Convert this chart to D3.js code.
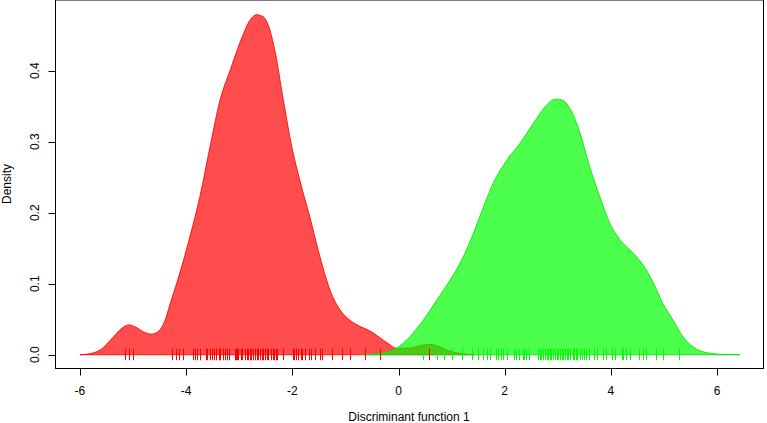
<!DOCTYPE html>
<html><head><meta charset="utf-8">
<script src="https://cdn.jsdelivr.net/npm/d3@7"></script>
<style>body{margin:0;background:#fff}svg{display:block}text{font-family:"Liberation Sans",Arial,sans-serif;font-size:12px;fill:#000}</style>
</head><body>
<svg id="c" width="767" height="423"></svg>
<script>
// Density curve of group 1 (red): [x, density]
const redDensity = [[-6.0,0],[-5.85,0.001],[-5.62,0.0066],[-5.37,0.025],[-5.2,0.038],[-5.07,0.042],[-4.95,0.039],[-4.80,0.032],[-4.65,0.029],[-4.52,0.033],[-4.40,0.048],[-4.30,0.072],[-4.12,0.115],[-3.93,0.166],[-3.74,0.223],[-3.55,0.293],[-3.36,0.359],[-3.17,0.401],[-2.99,0.439],[-2.80,0.471],[-2.67,0.479],[-2.55,0.476],[-2.48,0.469],[-2.33,0.429],[-2.17,0.359],[-2.01,0.293],[-1.86,0.246],[-1.67,0.194],[-1.48,0.138],[-1.29,0.091],[-1.10,0.063],[-0.92,0.049],[-0.73,0.040],[-0.55,0.034],[-0.35,0.024],[-0.20,0.016],[-0.04,0.009],[0.21,0.0095],[0.42,0.013],[0.59,0.0146],[0.75,0.012],[0.91,0.0066],[1.16,0.002],[1.43,0]];
// Density curve of group 2 (green): [x, density]
const greenDensity = [[-0.66,0],[-0.35,0.002],[-0.04,0.009],[0.21,0.025],[0.47,0.049],[0.72,0.077],[0.97,0.105],[1.22,0.138],[1.41,0.171],[1.60,0.208],[1.78,0.241],[2.04,0.274],[2.29,0.298],[2.54,0.326],[2.76,0.349],[2.91,0.359],[3.01,0.360],[3.12,0.357],[3.23,0.347],[3.42,0.312],[3.60,0.265],[3.79,0.223],[3.98,0.185],[4.17,0.162],[4.42,0.143],[4.61,0.126],[4.80,0.101],[4.98,0.072],[5.17,0.049],[5.36,0.025],[5.55,0.011],[5.80,0.003],[6.11,0.0005],[6.43,0]];
// Observations (rug) per group
const redObs = [-5.15,-5.07,-5.00,-4.27,-4.20,-4.13,-4.05,-3.88,-3.83,-3.79,-3.73,-3.63,-3.60,-3.56,-3.52,-3.48,-3.44,-3.39,-3.38,-3.36,-3.30,-3.27,-3.23,-3.19,-3.08,-3.06,-3.04,-3.02,-2.97,-2.94,-2.90,-2.86,-2.83,-2.80,-2.77,-2.74,-2.70,-2.67,-2.64,-2.61,-2.58,-2.55,-2.52,-2.48,-2.45,-2.41,-2.37,-2.34,-2.31,-2.28,-2.17,-1.99,-1.96,-1.93,-1.89,-1.84,-1.81,-1.76,-1.68,-1.64,-1.57,-1.48,-1.44,-1.26,-1.07,-0.92,-0.63,-0.35,0.58];
const greenObs = [0.47,0.72,0.86,1.01,1.19,1.39,1.50,1.60,1.66,1.72,1.83,1.88,1.93,1.97,2.05,2.18,2.22,2.27,2.34,2.37,2.41,2.46,2.62,2.66,2.69,2.72,2.76,2.79,2.82,2.85,2.88,2.91,2.94,2.98,3.01,3.04,3.07,3.10,3.13,3.17,3.20,3.23,3.28,3.31,3.34,3.37,3.42,3.46,3.50,3.54,3.59,3.68,3.73,3.85,3.90,4.03,4.08,4.20,4.23,4.28,4.36,4.53,4.61,4.67,4.85,4.98,5.29];
const xTicks = [-6,-4,-2,0,2,4,6];
const yTicks = [0,0.1,0.2,0.3,0.4];
const xTitle = "Discriminant function 1";
const yTitle = "Density";

const svg = d3.select("#c");
const L = 55, R = 763, T = 0, B = 368;
const x = d3.scaleLinear().domain([-6.47, 6.865]).range([L, R]);
const y = d3.scaleLinear().domain([-0.0187, 0.4983]).range([B, T + 1]);

const area = d3.area().x(d => x(d[0])).y0(y(0)).y1(d => y(d[1])).curve(d3.curveMonotoneX);
const line = d3.line().x(d => x(d[0])).y(d => y(d[1])).curve(d3.curveMonotoneX);

function drawDens(data, fill, stroke) {
  svg.append("path").attr("d", area(data)).attr("fill", fill).attr("stroke", "none");
  svg.append("path").attr("d", line(data)).attr("fill", "none").attr("stroke", stroke).attr("stroke-width", 1);
  svg.append("line").attr("x1", x(data[0][0])).attr("x2", x(data[data.length-1][0]))
    .attr("y1", y(0)).attr("y2", y(0)).attr("stroke", stroke).attr("stroke-width", 1);
}
drawDens(redDensity, "rgba(255,0,0,0.7)", "rgba(255,0,0,0.85)");
drawDens(greenDensity, "rgba(0,255,0,0.7)", "rgba(0,230,0,0.85)");

function rug(data, color) {
  svg.append("g").selectAll("line").data(data).join("line")
    .attr("x1", d => Math.round(x(d)) + 0.5).attr("x2", d => Math.round(x(d)) + 0.5)
    .attr("y1", y(0) - 6).attr("y2", y(0) + 5.5)
    .attr("stroke", color).attr("stroke-width", 1);
}
rug(redObs, "#ff0000");
rug(greenObs, "#00ff00");

// box
svg.append("rect").attr("x", L + 0.5).attr("y", T).attr("width", R - L).attr("height", B - T + 0.5)
  .attr("fill", "none").attr("stroke", "#000").attr("stroke-width", 1);

// x axis
const xa = svg.append("g").attr("transform", `translate(0,${B + 0.5})`);
xa.append("line").attr("x1", x(xTicks[0])).attr("x2", x(xTicks[xTicks.length-1])).attr("stroke", "#000");
xa.selectAll("line.t").data(xTicks).join("line").attr("class", "t")
  .attr("x1", d => Math.round(x(d)) + 0.5).attr("x2", d => Math.round(x(d)) + 0.5)
  .attr("y1", 0).attr("y2", 7).attr("stroke", "#000");
xa.selectAll("text").data(xTicks).join("text")
  .attr("x", d => x(d)).attr("y", 26).attr("text-anchor", "middle").text(d => d);

// y axis
const ya = svg.append("g").attr("transform", `translate(${L + 0.5},0)`);
ya.append("line").attr("y1", y(yTicks[0])).attr("y2", y(yTicks[yTicks.length-1])).attr("stroke", "#000");
ya.selectAll("line.t").data(yTicks).join("line").attr("class", "t")
  .attr("y1", d => Math.round(y(d)) + 0.5).attr("y2", d => Math.round(y(d)) + 0.5)
  .attr("x1", 0).attr("x2", -7).attr("stroke", "#000");
ya.selectAll("text").data(yTicks).join("text")
  .attr("transform", d => `translate(-17,${y(d)}) rotate(-90)`)
  .attr("text-anchor", "middle").text(d => d.toFixed(1));

svg.append("text").attr("x", (L + R) / 2).attr("y", 421).attr("text-anchor", "middle").text(xTitle);
svg.append("text").attr("transform", `translate(10.5,${(T + B) / 2}) rotate(-90)`).attr("text-anchor", "middle").text(yTitle);
</script>
</body></html>
